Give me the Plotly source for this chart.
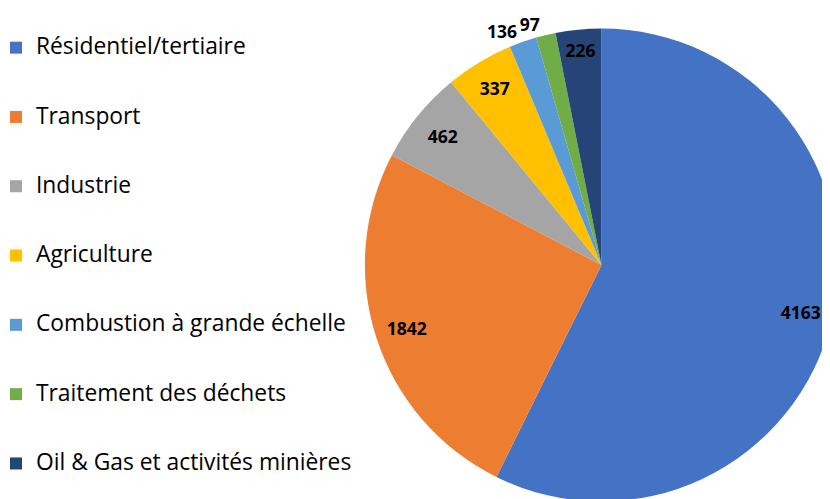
import plotly.graph_objects as go

# émissions par secteur
secteurs = ['Résidentiel/tertiaire', 'Transport', 'Industrie', 'Agriculture',
            'Combustion à grande échelle', 'Traitement des déchets',
            'Oil & Gas et activités minières']
valeurs = [4163, 1842, 462, 337, 136, 97, 226]
couleurs = ['#4472C4', '#ED7D31', '#A5A5A5', '#FFC000', '#5B9BD5', '#70AD47', '#264478']

# where each value label goes: the ring trace carries most of them,
# the main pie carries the one that would collide with '136'
pos_anneau = ['inside', 'inside', 'inside', 'inside', 'outside', 'none', 'inside']
pos_pie = ['none', 'none', 'none', 'none', 'none', 'outside', 'none']

# blank lines around the labels to space the legend entries out
labels_legende = ['<br><span style="font-size:22.8px">' + s + '</span><br>' for s in secteurs]

domaine = dict(x=[0.43, 1.0], y=[0.01, 0.96])
police_val = dict(family='Open Sans', size=17.5, color='black', weight='bold')

fig = go.Figure()

# the real pie
fig.add_trace(go.Pie(
    labels=labels_legende,
    values=valeurs,
    sort=False,
    direction='clockwise',
    rotation=0,
    marker=dict(colors=couleurs, line=dict(width=0)),
    textinfo='value',
    textposition=pos_pie,
    textfont=police_val,
    customdata=secteurs,
    hovertemplate='%{customdata}: %{value}<extra></extra>',
    domain=domaine,
    showlegend=True,
))

# transparent ring on top, only used to put the labels near the edge
fig.add_trace(go.Pie(
    labels=secteurs,
    values=valeurs,
    sort=False,
    direction='clockwise',
    rotation=0,
    hole=0.73,
    marker=dict(colors=['rgba(0,0,0,0)'] * len(valeurs), line=dict(width=0)),
    textinfo='value',
    textposition=pos_anneau,
    insidetextorientation='horizontal',
    textfont=police_val,
    hoverinfo='skip',
    domain=domaine,
    showlegend=False,
))

fig.update_layout(
    width=830, height=499,
    margin=dict(l=0, r=0, t=0, b=0, autoexpand=False),
    paper_bgcolor='white',
    font=dict(family='Open Sans', color='black'),
    legend=dict(x=0, y=1.0, xanchor='left', yanchor='top',
                font=dict(family='Open Sans', size=17.0, color='black'),
                traceorder='normal', valign='middle',
                indentation=-12, maxheight=499),
)

fig.write_html('out.html')
